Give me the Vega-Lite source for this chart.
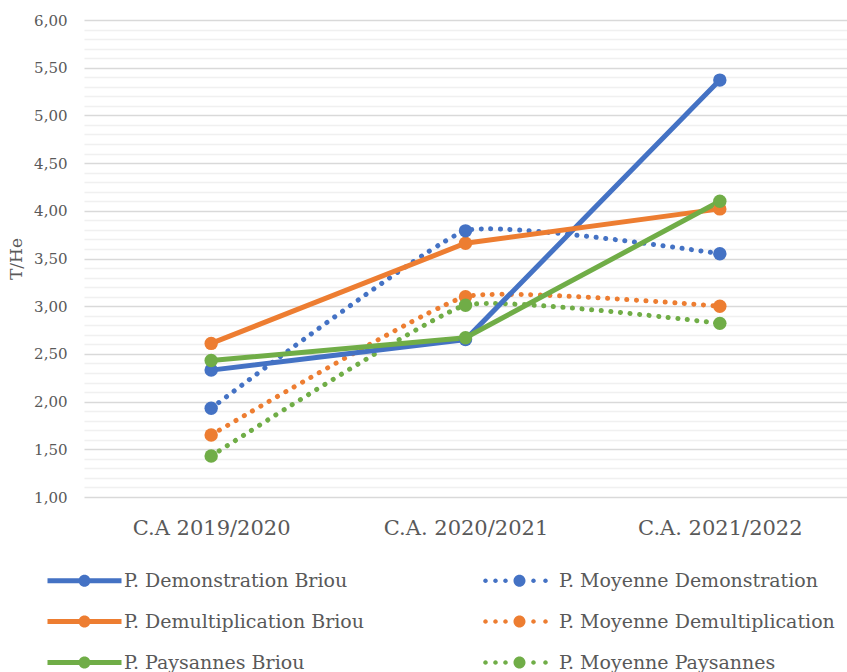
{
  "$schema": "https://vega.github.io/schema/vega-lite/v6.json",
  "width": 763,
  "height": 477,
  "autosize": {"type": "none"},
  "padding": {"left": 84, "top": 20, "right": 0, "bottom": 175},
  "background": "white",
  "config": {"view": {"stroke": null}, "font": "DejaVu Serif"},
  "data": {"values": [
    {"series": "P. Demonstration Briou", "style": "solid", "period": "C.A 2019/2020", "value": 2.33},
    {"series": "P. Demonstration Briou", "style": "solid", "period": "C.A. 2020/2021", "value": 2.65},
    {"series": "P. Demonstration Briou", "style": "solid", "period": "C.A. 2021/2022", "value": 5.37},
    {"series": "P. Demultiplication Briou", "style": "solid", "period": "C.A 2019/2020", "value": 2.61},
    {"series": "P. Demultiplication Briou", "style": "solid", "period": "C.A. 2020/2021", "value": 3.66},
    {"series": "P. Demultiplication Briou", "style": "solid", "period": "C.A. 2021/2022", "value": 4.02},
    {"series": "P. Paysannes Briou", "style": "solid", "period": "C.A 2019/2020", "value": 2.43},
    {"series": "P. Paysannes Briou", "style": "solid", "period": "C.A. 2020/2021", "value": 2.67},
    {"series": "P. Paysannes Briou", "style": "solid", "period": "C.A. 2021/2022", "value": 4.10},
    {"series": "P. Moyenne Demonstration", "style": "dotted", "period": "C.A 2019/2020", "value": 1.93},
    {"series": "P. Moyenne Demonstration", "style": "dotted", "period": "C.A. 2020/2021", "value": 3.79},
    {"series": "P. Moyenne Demonstration", "style": "dotted", "period": "C.A. 2021/2022", "value": 3.55},
    {"series": "P. Moyenne Demultiplication", "style": "dotted", "period": "C.A 2019/2020", "value": 1.65},
    {"series": "P. Moyenne Demultiplication", "style": "dotted", "period": "C.A. 2020/2021", "value": 3.10},
    {"series": "P. Moyenne Demultiplication", "style": "dotted", "period": "C.A. 2021/2022", "value": 3.00},
    {"series": "P. Moyenne Paysannes", "style": "dotted", "period": "C.A 2019/2020", "value": 1.43},
    {"series": "P. Moyenne Paysannes", "style": "dotted", "period": "C.A. 2020/2021", "value": 3.01},
    {"series": "P. Moyenne Paysannes", "style": "dotted", "period": "C.A. 2021/2022", "value": 2.82}
  ]},
  "encoding": {
    "x": {
      "field": "period", "type": "nominal", "sort": null,
      "scale": {"type": "point", "padding": 0.5},
      "axis": {"title": null, "domain": false, "ticks": false, "grid": false, "labelAngle": 0, "labelFontSize": 21, "labelColor": "#595959", "labelPadding": 20}
    },
    "y": {
      "field": "value", "type": "quantitative",
      "scale": {"domain": [1, 6], "nice": false, "zero": false},
      "axis": {
        "title": "T/He", "titleFontSize": 17, "titleFontWeight": "normal", "titleColor": "#595959", "titlePadding": 8,
        "values": [1,1.1,1.2,1.3,1.4,1.5,1.6,1.7,1.8,1.9,2,2.1,2.2,2.3,2.4,2.5,2.6,2.7,2.8,2.9,3,3.1,3.2,3.3,3.4,3.5,3.6,3.7,3.8,3.9,4,4.1,4.2,4.3,4.4,4.5,4.6,4.7,4.8,4.9,5,5.1,5.2,5.3,5.4,5.5,5.6,5.7,5.8,5.9,6],
        "labelExpr": "abs(datum.value*2-round(datum.value*2))<0.001 ? replace(format(datum.value,'.2f'),'.',',') : ''",
        "labelFontSize": 15, "labelColor": "#595959", "labelPadding": 17,
        "domain": false, "ticks": false,
        "grid": true,
        "gridColor": {"condition": {"test": "abs(datum.value*2-round(datum.value*2))<0.001", "value": "#d9d9d9"}, "value": "#f0f0f0"},
        "gridWidth": 1.5
      }
    },
    "color": {
      "field": "series", "type": "nominal",
      "scale": {
        "domain": ["P. Demonstration Briou", "P. Demultiplication Briou", "P. Paysannes Briou", "P. Moyenne Demonstration", "P. Moyenne Demultiplication", "P. Moyenne Paysannes"],
        "range": ["#4472C4", "#ED7D31", "#70AD47", "#4472C4", "#ED7D31", "#70AD47"]
      },
      "legend": {
        "orient": "none", "legendX": -47, "legendY": 551, "columns": 2, "title": null,
        "labelFontSize": 19, "labelColor": "#595959", "labelLimit": 0,
        "symbolSize": 4, "symbolOffset": 38, "labelOffset": 30, "rowPadding": 21, "columnPadding": 107,
        "symbolStrokeWidth": 0,
        "encode": {
          "symbols": {
            "update": {
              "shape": {"signal": "indexof(datum.label,'Moyenne')>=0 ? 'M-36.3,0A2.3,2.3 0 1,1 -31.7,0A2.3,2.3 0 1,1 -36.3,0Z M-26.3,0A2.3,2.3 0 1,1 -21.7,0A2.3,2.3 0 1,1 -26.3,0Z M-16.3,0A2.3,2.3 0 1,1 -11.7,0A2.3,2.3 0 1,1 -16.3,0Z M-6,0A6,6 0 1,1 6,0A6,6 0 1,1 -6,0Z M11.7,0A2.3,2.3 0 1,1 16.3,0A2.3,2.3 0 1,1 11.7,0Z M23.7,0A2.3,2.3 0 1,1 28.3,0A2.3,2.3 0 1,1 23.7,0Z' : 'M-37,-2.5H37V2.5H-37Z M-6,0A6,6 0 1,1 6,0A6,6 0 1,1 -6,0Z'"},
              "fill": {"scale": "color", "field": "value"},
              "strokeWidth": {"value": 0},
              "opacity": {"value": 1}
            }
          }
        }
      }
    }
  },
  "layer": [
    {"transform": [{"filter": "datum.style==='dotted'"}], "mark": {"type": "line", "strokeWidth": 5, "strokeDash": [0.1, 9.5], "strokeCap": "round", "interpolate": "cardinal", "tension": 0.6}},
    {"transform": [{"filter": "datum.style==='solid'"}], "mark": {"type": "line", "strokeWidth": 5}},
    {"mark": {"type": "circle", "size": 180, "opacity": 1}}
  ]
}
